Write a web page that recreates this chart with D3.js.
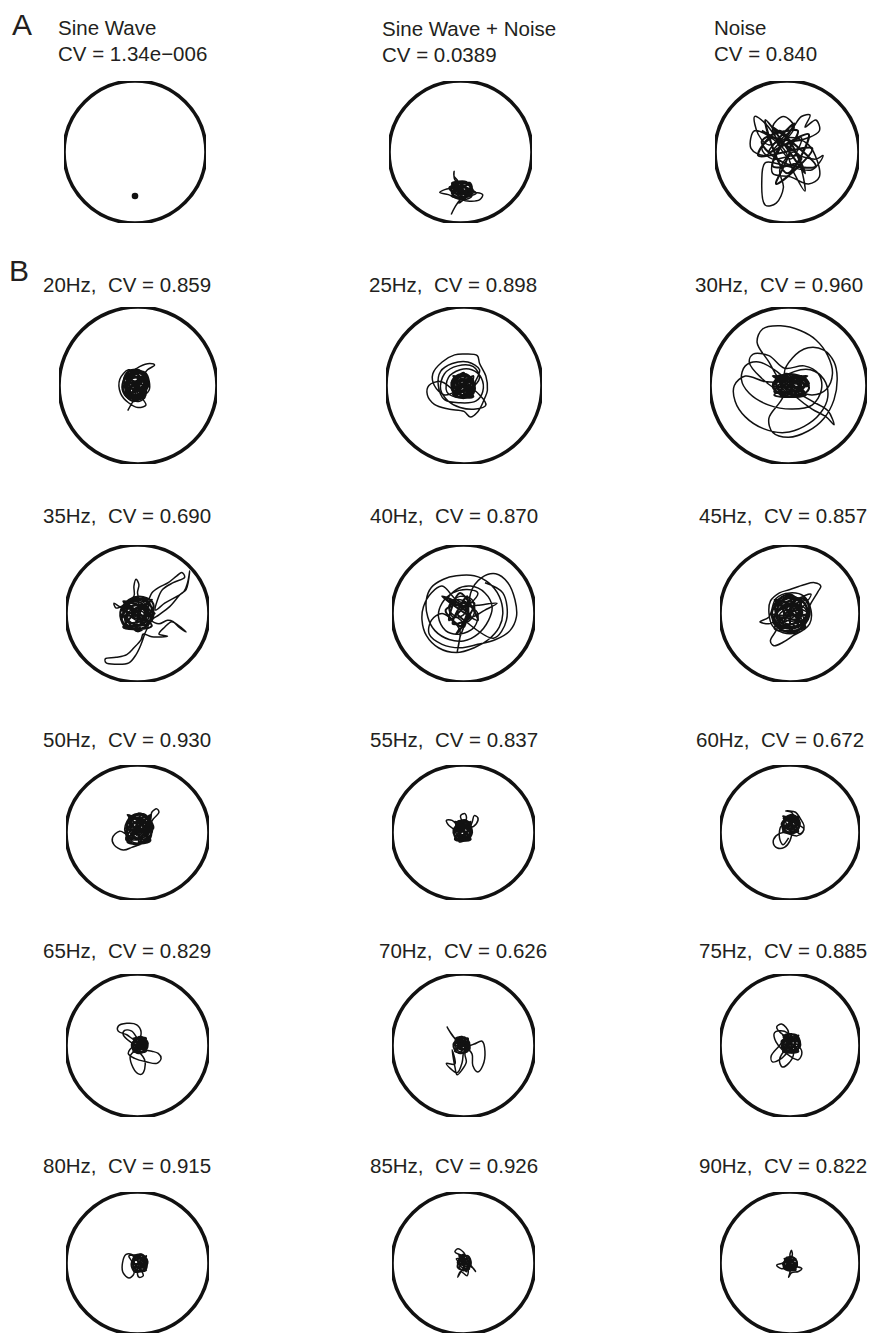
<!DOCTYPE html>
<html>
<head>
<meta charset="utf-8">
<script src="https://cdn.jsdelivr.net/npm/d3@7"></script>
<style>
  html, body { margin: 0; padding: 0; background: #fff; }
  svg { display: block; }
  text { font-family: "Liberation Sans", Arial, Helvetica, sans-serif; fill: #231f20; }
</style>
</head>
<body>
<svg id="fig" width="873" height="1333"></svg>
<script>
// ---- Panel A: reference signals ----
const titlesA = ["Sine Wave", "Sine Wave + Noise", "Noise"];
const cvA = ["1.34e\u2212006", "0.0389", "0.840"];

// ---- Panel B: stimulation frequencies and coefficient of variation ----
const freqs = [20, 25, 30, 35, 40, 45, 50, 55, 60, 65, 70, 75, 80, 85, 90];
const cvB = ["0.859", "0.898", "0.960", "0.690", "0.870", "0.857", "0.930", "0.837",
             "0.672", "0.829", "0.626", "0.885", "0.915", "0.926", "0.822"];

// Phase trajectories in unit-circle coordinates (x, y): excursions and dense cores
const trajSine = [[0, -0.62]];
const trajSineNoise = [[-0.13,-0.88],[-0.08,-0.78],[0,-0.67],[0.11,-0.62],[0.2,-0.57],[0.31,-0.6],[0.27,-0.67],[0.1,-0.69],[-0.08,-0.64],[-0.17,-0.6],[-0.29,-0.57],[-0.22,-0.53],[-0.08,-0.5],[0.04,-0.45],[0.13,-0.43],[0.16,-0.5],[0.08,-0.59],[-0.06,-0.56],[-0.12,-0.46],[-0.04,-0.41],[-0.09,-0.34],[-0.09,-0.27],[-0.08,-0.39],[0.05,-0.48],[0.13,-0.56],[0.02,-0.63],[-0.1,-0.55],[0,-0.48],[0.09,-0.53],[0.16,-0.62],[0.05,-0.67],[-0.05,-0.6],[-0.13,-0.52],[-0.03,-0.44],[0.1,-0.46],[0.18,-0.55],[0.12,-0.62],[0,-0.57],[-0.09,-0.49],[0.02,-0.42],[0.14,-0.5],[0.06,-0.58],[-0.04,-0.53],[0.05,-0.5],[0.22,-0.58],[0.08,-0.64],[-0.02,-0.72],[0.02,-0.6],[-0.1,-0.58],[-0.16,-0.5],[-0.05,-0.47]];
const coreSineNoise = [[-0.1,-0.46],[0.04,-0.42],[0.14,-0.5],[0.1,-0.6],[-0.02,-0.64],[-0.12,-0.58],[-0.06,-0.5],[0.06,-0.48],[0.08,-0.56],[-0.04,-0.6],[-0.14,-0.5],[0,-0.44],[0.12,-0.44],[0.16,-0.56],[0.02,-0.66],[-0.1,-0.62],[-0.08,-0.52],[0.04,-0.54],[0.12,-0.62],[0,-0.5],[-0.12,-0.44],[0.08,-0.42],[0.14,-0.52],[-0.02,-0.56],[0.12,-0.44],[-0.12,-0.62],[0.12,-0.62],[-0.12,-0.46],[0.15,-0.53],[-0.14,-0.53],[0,-0.43],[0,-0.65]];
const trajNoise = [[-0.1,0.12],[-0.3,0.4],[-0.45,0.5],[-0.4,0.25],[-0.25,0.1],[0.05,0.3],[0.2,0.5],[0.32,0.52],[0.25,0.35],[0.4,0.45],[0.45,0.3],[0.1,0.15],[-0.2,0.2],[-0.35,0.05],[-0.2,-0.1],[0.1,-0.05],[0.4,-0.1],[0.5,-0.05],[0.35,-0.25],[0,-0.2],[-0.3,-0.15],[-0.35,-0.4],[-0.3,-0.75],[-0.15,-0.72],[-0.05,-0.5],[-0.1,-0.25],[0.1,0],[0.25,-0.55],[0.1,-0.3],[-0.05,0.05],[-0.45,0.3],[-0.5,0.05],[-0.3,-0.05],[0,0.2],[0.3,0.1],[0.45,-0.35],[0.3,-0.45],[0.05,-0.35],[-0.2,-0.3],[-0.15,0],[0.1,0.35],[-0.05,0.5],[-0.2,0.35],[-0.05,0.1],[0.2,0.2],[0.05,-0.1],[-0.15,0.15]];
const coreNoise = [[-0.35,0.3],[0.2,-0.1],[-0.2,-0.2],[0.1,0.4],[-0.25,0],[0.3,0.25],[0,-0.3],[-0.3,0.45],[0.25,-0.3],[-0.1,0.3],[-0.4,-0.05],[0.35,0.05],[-0.15,-0.45],[0.05,0.1],[-0.2,0.35],[0.4,-0.2],[-0.05,-0.15],[-0.35,0.15],[0.15,0.3],[0,0]];

const traj20 = [[-0.13,-0.32],[-0.06,-0.2],[0,-0.12],[0.1,-0.05],[0.12,0.08],[0.05,0.18],[-0.08,0.2],[-0.17,0.1],[-0.2,-0.05],[-0.12,-0.17],[0.02,-0.2],[0.1,-0.12],[0.08,0.02],[-0.02,0.1],[-0.12,0.05],[-0.1,-0.08],[0,-0.05],[0.05,0.1],[0.12,0.2],[0.21,0.26],[0.15,0.28],[0.02,0.24],[-0.1,0.15],[-0.19,0.02],[-0.15,-0.12],[-0.05,-0.15],[0.08,-0.08],[0.14,0.05],[0.06,0.15],[-0.06,0.13],[-0.14,0],[-0.08,-0.1],[0.04,-0.1],[0.09,0],[0.02,0.07],[-0.06,0.03],[-0.04,-0.04],[0.05,-0.16],[0.1,-0.25],[0,-0.28],[-0.12,-0.22],[-0.22,-0.1],[-0.23,0.08],[-0.12,0.2],[0,0.16],[0.1,0.1],[0.04,-0.02],[-0.08,0.06],[-0.02,0.18],[0.1,0.16],[0.14,-0.06],[0.02,-0.14],[-0.14,-0.06],[-0.1,0.1]];
const core20 = [[-0.1,0.12],[0.04,0.16],[0.1,0.04],[0.02,-0.1],[-0.12,-0.14],[-0.16,0],[-0.06,0.1],[0.08,0.08],[0.06,-0.06],[-0.08,-0.04],[-0.14,0.1],[-0.02,0.2],[0.1,0.12],[0.12,-0.02],[0,-0.16],[-0.1,-0.08],[-0.04,0.04],[0.06,0],[-0.02,-0.08],[-0.12,0.04],[-0.08,0.16],[0.04,0.1],[0.1,-0.08],[-0.04,-0.18],[-0.14,-0.06],[-0.1,0.06],[0.02,0.04],[0,0.14],[-0.12,0.18],[-0.18,0.06],[-0.1,-0.1],[0.04,-0.12],[0.12,0.06],[0.02,0.18],[-0.08,0.08],[-0.02,-0.02],[0.08,-0.12],[-0.06,-0.2],[-0.16,-0.1],[-0.06,0],[0.1,0.14],[-0.16,-0.12],[0.08,-0.16],[-0.14,0.16],[0.12,0],[-0.18,-0.02],[0,0.2],[-0.04,-0.2],[0.1,0.1],[-0.12,-0.16],[0.06,0.16],[-0.16,0.12],[0.1,-0.12]];
const traj25 = [[-0.04,0],[0.08,0.08],[0.1,-0.06],[-0.02,-0.12],[-0.14,-0.05],[-0.1,0.1],[0.04,0.12],[0.12,0.02],[0.05,-0.1],[-0.1,-0.1],[-0.16,0.04],[-0.05,0.14],[0.09,0.1],[0.13,-0.04],[0,-0.14],[-0.13,-0.06],[-0.3,0.05],[-0.45,0],[-0.47,-0.12],[-0.38,-0.24],[-0.2,-0.3],[0,-0.33],[0.08,-0.4],[0.18,-0.33],[0.27,-0.15],[0.3,-0.06],[0.28,0.12],[0.2,0.28],[0.17,0.38],[0.02,0.4],[-0.12,0.39],[-0.28,0.3],[-0.4,0.15],[-0.38,0],[-0.25,-0.12],[-0.08,-0.06],[0.06,0.05],[0.02,0.1],[-0.1,0.02],[-0.05,-0.08],[0.1,-0.05],[0.15,0.06],[0.2,0.2],[0.05,0.3],[-0.15,0.28],[-0.3,0.18],[-0.33,0],[-0.25,-0.18],[-0.05,-0.22],[0.15,-0.2],[0.24,-0.08],[0.22,0.1],[0.1,0.2],[-0.05,0.2],[-0.2,0.1],[-0.22,-0.08],[-0.1,-0.15],[0.06,-0.14],[0.14,-0.02],[0.04,0.06],[-0.08,0.04],[-0.04,-0.06],[0.06,-0.03],[0.2,-0.12],[0.28,-0.25],[0.15,-0.3],[-0.05,-0.28],[-0.2,-0.2],[-0.3,-0.05],[-0.25,0.15],[-0.08,0.25],[0.12,0.24],[0.2,0.1],[0.1,-0.02],[-0.02,0.02],[-0.1,-0.03],[0,-0.08]];
const core25 = [[-0.1,0.1],[0.05,0.12],[0.12,0],[0.05,-0.12],[-0.08,-0.14],[-0.16,-0.02],[-0.06,0.06],[0.08,0.06],[0.04,-0.06],[-0.1,-0.06],[-0.14,0.08],[0,0.15],[0.1,0.08],[0.12,-0.1],[-0.02,-0.16],[-0.12,-0.1],[-0.04,0],[0.06,-0.02],[0,0.08],[-0.12,0.02],[-0.06,-0.1],[0.08,-0.14],[0.14,-0.04],[0.06,0.12],[-0.06,0.14],[-0.16,0.04],[-0.1,-0.12],[0.02,-0.04],[0.1,0.04],[-0.02,0.06],[-0.08,-0.02],[0.04,-0.1],[0.12,0.06],[-0.04,0.12],[-0.14,-0.06],[0,-0.12],[0.08,0],[0.12,0.12],[-0.14,-0.12],[0.12,-0.14],[-0.14,0.12],[0.14,0],[-0.16,0],[0,0.16],[0,-0.16],[0.1,0.08],[-0.1,-0.1]];
const traj30 = [[0,0.03],[0.12,0.1],[0.2,0],[0.1,-0.1],[-0.05,-0.1],[-0.15,0.02],[-0.05,0.15],[0.1,0.12],[0.22,0.05],[0.15,-0.08],[0,-0.05],[-0.12,0.08],[-0.25,0.3],[-0.4,0.55],[-0.33,0.72],[-0.1,0.76],[0.15,0.7],[0.35,0.58],[0.5,0.38],[0.56,0.15],[0.48,-0.05],[0.3,-0.12],[0.12,-0.06],[0.02,0.05],[-0.1,0],[0.05,-0.12],[0.18,0.06],[0.05,0.14],[-0.1,0.05],[-0.3,0.05],[-0.55,0.12],[-0.69,0],[-0.68,-0.2],[-0.55,-0.4],[-0.32,-0.55],[-0.05,-0.6],[0.2,-0.52],[0.4,-0.36],[0.5,-0.15],[0.45,0.08],[0.28,0.2],[0.08,0.18],[-0.08,0.08],[0,-0.08],[0.15,-0.02],[0.08,0.1],[-0.1,-0.2],[-0.25,-0.42],[-0.2,-0.6],[0,-0.66],[0.25,-0.58],[0.45,-0.42],[0.58,-0.18],[0.62,0.1],[0.58,0.3],[0.45,0.45],[0.25,0.48],[0.05,0.35],[-0.05,0.15],[0.1,0.02],[0.2,0.1],[0.05,0.08],[-0.12,-0.05],[-0.35,0.1],[-0.5,0.3],[-0.45,0.4],[-0.25,0.38],[-0.05,0.22],[0.2,0.25],[0.38,0.15],[0.42,-0.05],[0.3,-0.25],[0.05,-0.3],[-0.25,-0.25],[-0.5,-0.1],[-0.6,0.08],[-0.55,0.25],[-0.38,0.3],[-0.15,0.18],[0.05,0],[0.18,-0.05],[0.1,0.08],[-0.02,0.02],[0.3,-0.2],[0.5,-0.32],[0.58,-0.5],[0.48,-0.4],[0.3,-0.3],[0.1,-0.15],[-0.05,0]];
const core30 = [[-0.18,0.1],[0,0.14],[0.18,0.08],[0.26,-0.04],[0.12,-0.14],[-0.06,-0.12],[-0.2,-0.02],[-0.08,0.08],[0.1,0.1],[0.2,0],[0.06,-0.08],[-0.12,-0.06],[-0.16,0.08],[0.02,0.04],[0.14,-0.06],[0.24,0.06],[0.08,0.14],[-0.1,0.12],[-0.2,0],[-0.06,-0.14],[0.1,-0.12],[0.2,-0.08],[0.04,0],[-0.1,0.02],[0,0.1],[0.16,0.12],[0.26,0.02],[0.1,-0.04],[-0.04,-0.04],[-0.14,0.12],[0.06,0.08],[0.18,-0.12],[0,-0.1],[-0.18,-0.08],[-0.08,0.04],[0.24,0.12],[-0.18,-0.12],[0.22,-0.12],[-0.2,0.12],[0.26,0],[-0.2,0],[0.04,0.14],[0.04,-0.14],[0.18,0.1],[-0.14,-0.1]];
const traj35 = [[0,0],[0.12,0.1],[0.15,-0.08],[0.02,-0.18],[-0.12,-0.1],[-0.15,0.08],[-0.02,0.2],[0.1,0.15],[0.18,0],[0.08,-0.14],[-0.08,-0.15],[-0.2,-0.02],[-0.1,0.15],[0.05,0.1],[0,-0.05],[-0.12,0.02],[-0.25,0.1],[-0.33,0.15],[-0.3,0.08],[-0.2,0.12],[-0.05,0.25],[-0.05,0.4],[-0.02,0.5],[0.02,0.42],[0,0.3],[0.05,0.18],[0.15,0.2],[0.2,0.3],[0.3,0.38],[0.43,0.45],[0.55,0.55],[0.62,0.6],[0.66,0.53],[0.5,0.45],[0.35,0.35],[0.28,0.2],[0.25,0.05],[0.38,0.15],[0.55,0.25],[0.65,0.32],[0.7,0.45],[0.73,0.62],[0.68,0.35],[0.6,0.28],[0.45,0.1],[0.3,-0.02],[0.2,-0.1],[0.3,-0.15],[0.42,-0.1],[0.5,-0.12],[0.58,-0.2],[0.68,-0.27],[0.58,-0.18],[0.48,-0.12],[0.38,-0.2],[0.3,-0.3],[0.42,-0.33],[0.2,-0.34],[0.08,-0.3],[0.05,-0.38],[-0.05,-0.5],[-0.15,-0.6],[-0.3,-0.64],[-0.45,-0.66],[-0.44,-0.72],[-0.3,-0.74],[-0.12,-0.72],[-0.02,-0.6],[0.05,-0.45],[0.1,-0.3],[0.15,-0.15],[0.05,-0.05],[-0.1,-0.2],[-0.18,-0.08],[-0.08,0.05],[0.08,0.02],[0.12,-0.12],[-0.02,-0.1],[-0.15,0.05],[-0.05,0.12],[0.1,0.05]];
const core35 = [[-0.2,0.15],[0,0.22],[0.18,0.12],[0.22,-0.05],[0.1,-0.2],[-0.1,-0.22],[-0.22,-0.08],[-0.12,0.08],[0.06,0.12],[0.14,-0.02],[0.02,-0.12],[-0.14,-0.12],[-0.2,0.04],[-0.06,0.18],[0.12,0.2],[0.2,0.04],[0.06,-0.08],[-0.08,-0.04],[-0.02,0.08],[0.1,0.04],[0,-0.2],[-0.18,-0.18],[-0.24,0.02],[-0.12,0.2],[0.08,0.24],[0.22,0.14],[0.16,-0.12],[-0.02,-0.02],[-0.14,0.14],[0.04,0.16],[0.18,-0.08],[0,-0.26],[-0.16,-0.02],[0.02,0.04],[0.2,0.2],[-0.2,-0.2],[0.2,-0.18],[-0.2,0.18],[0.24,0],[-0.24,0],[0,0.24],[0,-0.24],[0.16,0.16],[-0.16,-0.16],[0.14,-0.14],[-0.14,0.14]];
const traj40 = [[-0.05,0.06],[0.1,0.15],[0.2,0.3],[0.05,0.35],[-0.15,0.3],[-0.3,0.15],[-0.35,-0.05],[-0.25,-0.25],[-0.05,-0.3],[0.15,-0.2],[0.2,0],[0.1,0.1],[-0.1,0.2],[-0.3,0.4],[-0.45,0.3],[-0.56,0.1],[-0.58,-0.1],[-0.52,-0.32],[-0.35,-0.5],[-0.1,-0.57],[0.15,-0.5],[0.35,-0.38],[0.5,-0.2],[0.55,0],[0.5,0.25],[0.35,0.45],[0.15,0.55],[-0.1,0.55],[-0.28,0.5],[-0.45,0.38],[-0.52,0.2],[-0.5,-0.05],[-0.4,-0.25],[-0.2,-0.38],[0,-0.4],[0.2,-0.3],[0.35,-0.1],[0.4,0.1],[0.3,0.3],[0.1,0.4],[-0.1,0.35],[-0.22,0.2],[0,0.1],[0.2,0.12],[0.47,0.15],[0.3,0.05],[0.1,-0.05],[0.1,0.3],[0.25,0.52],[0.45,0.58],[0.62,0.45],[0.72,0.2],[0.74,-0.05],[0.65,-0.25],[0.45,-0.38],[0.2,-0.45],[-0.05,-0.5],[-0.3,-0.45],[-0.48,-0.3],[-0.45,-0.1],[-0.3,0],[-0.15,-0.1],[-0.05,-0.25],[-0.09,-0.57],[-0.05,-0.35],[0,-0.15],[-0.2,0.05],[-0.1,0.2],[0.05,0.15],[0,-0.02],[-0.15,-0.05],[-0.2,0.12],[-0.05,0.25],[0.12,0.2],[0.15,0],[0.05,-0.12],[-0.1,0],[0.42,-0.36],[0.6,-0.1],[0.55,0.3],[0.3,0.45]];
const core40 = [[-0.2,0.2],[0.1,-0.05],[-0.15,-0.15],[0.05,0.25],[0,-0.2],[-0.25,0.05],[0.15,0.15],[-0.1,-0.3],[0.05,0.05],[-0.3,0.25],[0.2,-0.1],[-0.05,0.3],[-0.2,-0.1],[0.1,0.2]];
const traj45 = [[0,0],[0.15,0.12],[0.25,0],[0.15,-0.18],[-0.05,-0.22],[-0.22,-0.1],[-0.25,0.08],[-0.12,0.22],[0.05,0.25],[0.2,0.15],[0.26,-0.05],[0.12,-0.2],[-0.08,-0.2],[-0.2,-0.05],[-0.15,0.12],[0.02,0.18],[0.15,0.05],[0.08,-0.1],[-0.08,-0.08],[-0.05,0.08],[0.1,0.1],[0.18,-0.1],[0.3,0.15],[0.4,0.32],[0.44,0.4],[0.35,0.45],[0.2,0.42],[0,0.35],[-0.15,0.3],[-0.28,0.18],[-0.3,0],[-0.25,-0.18],[-0.1,-0.28],[0.1,-0.28],[0.28,-0.15],[0.3,0.05],[0.2,0.25],[0,0.3],[-0.2,0.22],[-0.3,-0.05],[-0.43,-0.12],[-0.3,-0.15],[-0.15,-0.1],[-0.2,-0.25],[-0.28,-0.4],[-0.23,-0.47],[-0.1,-0.42],[0.05,-0.32],[0.2,-0.22],[0.1,-0.05],[-0.05,0.05],[-0.15,-0.02],[-0.05,-0.15],[0.1,-0.12],[0.18,0.02],[0.08,0.15],[-0.1,0.12],[-0.18,0],[-0.1,-0.12],[0.05,-0.05],[0.3,0.28],[0.1,0.2],[-0.05,0]];
const core45 = [[-0.22,0.12],[0,0.24],[0.2,0.16],[0.26,-0.04],[0.14,-0.22],[-0.06,-0.26],[-0.24,-0.12],[-0.16,0.06],[0.04,0.14],[0.16,0.02],[0.06,-0.14],[-0.12,-0.14],[-0.2,0.02],[-0.08,0.2],[0.12,0.22],[0.24,0.08],[0.18,-0.14],[0,-0.2],[-0.18,-0.2],[-0.26,0],[-0.14,0.18],[0.06,0.06],[0.1,-0.08],[-0.04,-0.06],[-0.1,0.08],[0.02,0.2],[0.22,0.2],[0.28,-0.02],[0.1,-0.26],[-0.12,-0.24],[-0.22,-0.04],[-0.06,0.1],[0.12,0.1],[0.08,-0.2],[-0.16,-0.1],[-0.2,0.16],[0,0.28],[0.16,0.1],[0,0],[-0.1,-0.16],[0.2,-0.08],[0.04,0.16],[0.22,0.22],[-0.22,-0.22],[0.22,-0.2],[-0.22,0.2],[0.26,0],[-0.26,0],[0,0.26],[0,-0.26],[0.16,0.18],[-0.18,-0.16],[0.16,-0.16],[-0.16,0.16]];
const traj50 = [[0.02,0.07],[0.15,0.15],[0.2,0.02],[0.1,-0.12],[-0.05,-0.15],[-0.15,-0.02],[-0.12,0.18],[0.02,0.28],[0.15,0.22],[0.2,0.08],[0.12,-0.05],[-0.02,-0.1],[-0.12,0.05],[-0.05,0.2],[0.1,0.18],[0.15,0],[0,-0.05],[-0.08,0.1],[0.05,0.15],[0.12,0.05],[0.22,0.2],[0.3,0.3],[0.27,0.35],[0.2,0.3],[0.18,0.18],[0.05,0.05],[-0.1,-0.05],[-0.25,0.02],[-0.35,-0.08],[-0.33,-0.18],[-0.2,-0.26],[-0.08,-0.22],[0.05,-0.15],[0,0],[-0.1,0.15],[0,0.25],[0.12,0.12],[0.05,-0.02],[-0.08,0],[0.02,0.1],[0.15,0.08],[0.08,-0.08],[-0.1,-0.1],[-0.18,0.05],[-0.08,0.25],[0.1,0.27],[0.2,0.12]];
const core50 = [[-0.12,0.2],[0.04,0.28],[0.18,0.18],[0.2,0],[0.08,-0.14],[-0.08,-0.16],[-0.16,0],[-0.06,0.14],[0.1,0.14],[0.14,0.02],[0.02,-0.08],[-0.12,-0.06],[-0.14,0.12],[0,0.22],[0.16,0.1],[0.1,-0.1],[-0.06,-0.04],[-0.02,0.1],[0.12,0.24],[0.22,0.06],[0.04,0],[-0.1,0.06],[-0.04,0.26],[0.14,0.2],[0.18,-0.08],[0,-0.18],[-0.16,-0.1],[-0.08,0.04],[0.08,0.06],[0.02,0.16],[-0.12,0.24],[0.06,-0.04],[0.18,0.26],[-0.14,-0.14],[0.18,-0.12],[-0.14,0.26],[0.2,0.06],[-0.16,0.06],[0.02,0.28],[0.02,-0.16],[0.14,0.2],[-0.1,-0.1]];
const traj55 = [[-0.02,0.04],[0.08,0.1],[0.1,-0.02],[0,-0.1],[-0.1,-0.04],[-0.08,0.1],[0.04,0.14],[0.1,0.04],[0.03,-0.06],[-0.07,0],[-0.02,0.1],[0.07,0.06],[0.12,0.15],[0.15,0.25],[0.2,0.22],[0.18,0.13],[0.1,0.08],[0,0.15],[-0.04,0.25],[0.02,0.28],[0.04,0.2],[-0.1,0.05],[-0.2,0.1],[-0.24,0.18],[-0.16,0.18],[-0.08,0.08],[-0.05,-0.05],[0.05,-0.08],[0.1,0],[0.05,0.08],[-0.05,0.06],[-0.03,-0.04],[0,-0.12],[-0.06,-0.14],[-0.04,-0.06],[0.06,0.02],[0.02,0.12],[-0.08,0.12],[-0.12,0.02],[-0.02,-0.08],[0.08,-0.04]];
const core55 = [[-0.1,0.12],[0.02,0.16],[0.1,0.08],[0.1,-0.04],[0,-0.1],[-0.12,-0.06],[-0.12,0.06],[-0.02,0.1],[0.06,0.02],[-0.04,-0.04],[-0.1,0.14],[0.04,0.18],[0.12,0],[0.04,-0.12],[-0.08,-0.1],[-0.14,0.02],[-0.04,0.06],[0.06,0.12],[0.08,-0.06],[-0.06,-0.02],[0,0.04],[-0.08,0.16],[0.1,0.14],[0.02,-0.06],[0.1,0.16],[-0.12,-0.1],[0.1,-0.1],[-0.12,0.16],[0.12,0.03],[-0.14,0.03],[0,0.18],[0,-0.12]];
const traj60 = [[0,0.11],[0.1,0.18],[0.12,0.05],[0.02,-0.02],[-0.1,0.05],[-0.08,0.2],[0.05,0.25],[0.14,0.15],[0.08,0.02],[-0.05,0.02],[-0.1,0.15],[0,0.22],[0.1,0.1],[0.02,0.3],[-0.06,0.32],[0.08,0.3],[0.15,0.2],[0.2,0.1],[0.18,0],[0.1,-0.05],[-0.1,0],[-0.2,-0.05],[-0.24,-0.15],[-0.18,-0.23],[-0.08,-0.22],[0,-0.12],[0.02,0],[-0.05,0.1],[0.05,0.15],[0.1,0.05],[0,0.05],[-0.06,0.18],[0.06,0.2],[0.12,0.12],[0.2,0.05],[0.14,-0.02],[0.05,0.06],[-0.12,0.1],[-0.15,-0.08],[-0.1,-0.18],[-0.02,-0.08]];
const core60 = [[-0.1,0.2],[0.02,0.26],[0.12,0.2],[0.12,0.06],[0.02,0],[-0.1,0.04],[-0.08,0.16],[0.04,0.18],[0.08,0.1],[-0.02,0.06],[-0.12,0.12],[0,0.24],[0.14,0.14],[0.06,0.02],[-0.06,0.08],[0.02,0.14],[0.1,0.22],[-0.04,0.2],[-0.1,0.08],[0.06,0.06],[0.12,0.24],[-0.1,0.02],[0.12,0.02],[-0.1,0.24],[0.14,0.12],[-0.12,0.12],[0.02,0.26],[0.02,0]];
const traj65 = [[0.03,0],[0.1,0.06],[0.12,-0.03],[0.05,-0.09],[-0.04,-0.05],[-0.06,0.05],[0.02,0.1],[0.1,0.08],[0.14,0],[0.06,-0.06],[-0.02,-0.02],[0,0.06],[0.08,0.03],[-0.05,0.08],[-0.15,0.15],[-0.27,0.2],[-0.27,0.27],[-0.15,0.31],[-0.01,0.29],[0.05,0.19],[0.02,0.08],[-0.08,0.2],[-0.18,0.21],[-0.2,0.15],[-0.1,0.05],[0.1,-0.06],[0.2,-0.08],[0.29,-0.11],[0.33,-0.18],[0.27,-0.25],[0.13,-0.23],[-0.04,-0.18],[-0.13,-0.11],[-0.06,-0.02],[0.03,-0.1],[0.1,-0.2],[0.1,-0.33],[0.06,-0.4],[0,-0.39],[-0.08,-0.27],[-0.1,-0.14],[-0.02,-0.06],[0.08,0.02],[0.12,0.08],[0.03,0.04],[-0.03,-0.04],[0.07,-0.05],[0.15,0.04]];
const core65 = [[-0.06,0.08],[0.06,0.12],[0.14,0.04],[0.1,-0.08],[-0.02,-0.1],[-0.08,0],[0.02,0.06],[0.1,0],[0.02,-0.06],[-0.06,0.04],[0.04,0.1],[0.14,-0.02],[0.04,-0.1],[-0.06,-0.04],[0,0.02],[0.08,0.08],[0.12,-0.06],[-0.04,0.1],[0.12,0.1],[-0.06,-0.08],[0.12,-0.08],[-0.06,0.1],[0.14,0.01],[-0.08,0.01],[0.03,0.12],[0.03,-0.1]];
const traj70 = [[-0.02,0],[0.06,0.06],[0.08,-0.04],[0,-0.1],[-0.1,-0.05],[-0.1,0.06],[-0.02,0.1],[0.06,0.02],[-0.03,-0.06],[-0.08,0.02],[0.02,0.06],[-0.1,0.08],[-0.18,0.18],[-0.23,0.26],[-0.14,0.12],[-0.04,0.04],[0.08,0],[0.15,0.02],[0.26,0.06],[0.3,-0.08],[0.27,-0.28],[0.2,-0.37],[0.13,-0.28],[0.12,-0.12],[0.05,-0.05],[0.02,-0.12],[0.04,-0.23],[-0.02,-0.34],[-0.09,-0.41],[-0.12,-0.3],[-0.16,-0.06],[-0.12,-0.26],[-0.24,-0.25],[-0.09,-0.38],[-0.02,-0.24],[0,-0.1],[0.06,0.04],[-0.05,0.05],[-0.06,-0.05],[0.04,-0.04]];
const core70 = [[-0.12,0.06],[-0.02,0.12],[0.08,0.04],[0.04,-0.08],[-0.08,-0.1],[-0.14,0],[-0.04,0.06],[0.06,0],[-0.02,-0.06],[-0.1,0.1],[0.04,0.1],[0.08,-0.06],[-0.06,-0.04],[-0.12,-0.06],[0,0.02],[-0.06,0.12],[0.06,0.08],[0.06,0.1],[-0.12,-0.08],[0.06,-0.08],[-0.12,0.1],[0.08,0.01],[-0.14,0.01],[-0.03,0.12],[-0.03,-0.1]];
const traj75 = [[0,0.03],[0.1,0.08],[0.12,-0.04],[0.02,-0.1],[-0.08,-0.03],[-0.06,0.1],[0.06,0.12],[0.12,0.02],[0.04,-0.06],[-0.06,0.02],[0.02,0.1],[-0.1,0.15],[-0.19,0.26],[-0.12,0.3],[-0.02,0.18],[-0.15,0],[-0.27,-0.15],[-0.25,-0.23],[-0.12,-0.18],[0.02,-0.05],[0.05,-0.12],[-0.02,-0.25],[-0.11,-0.3],[-0.15,-0.2],[-0.05,-0.05],[0.12,-0.02],[0.17,-0.1],[0.12,-0.2],[0,-0.15],[-0.2,0.05],[-0.22,0.18],[-0.08,0.2],[0.08,0.05]];
const core75 = [[-0.1,0.1],[0.02,0.16],[0.12,0.08],[0.12,-0.04],[0,-0.1],[-0.12,-0.02],[-0.04,0.08],[0.08,0.04],[0.02,-0.04],[-0.08,0.14],[0.1,0.14],[0.14,-0.02],[-0.02,-0.08],[-0.12,0.06],[0.04,0.1],[0.06,-0.08],[-0.06,0],[0.12,0.14],[-0.1,-0.08],[0.12,-0.08],[-0.1,0.14],[0.14,0.03],[-0.12,0.03],[0.01,0.16],[0.01,-0.1]];
const traj80 = [[0.05,0],[0.12,0.06],[0.13,-0.04],[0.05,-0.12],[-0.05,-0.06],[-0.04,0.08],[0.06,0.12],[0.12,0.02],[0.03,-0.08],[-0.05,0.02],[0.05,0.06],[0.1,-0.1],[-0.08,0.12],[-0.16,0.12],[-0.21,0],[-0.2,-0.14],[-0.12,-0.21],[-0.05,-0.15],[-0.08,0.02],[-0.12,0.1],[0.02,0.1],[0.1,0],[0.04,-0.05],[0.08,-0.18],[0.02,-0.2],[0,-0.1],[0.08,0.1]];
const core80 = [[-0.06,0.1],[0.06,0.12],[0.14,0.02],[0.08,-0.1],[-0.04,-0.12],[-0.08,0],[0.04,0.06],[0.1,-0.04],[0,-0.06],[-0.06,0.06],[0.08,0.1],[0.12,-0.08],[-0.02,-0.1],[0.02,0.02],[0.1,0.06],[0.12,0.1],[-0.06,-0.1],[0.12,-0.1],[-0.06,0.1],[0.14,0],[-0.08,0],[0.03,0.12],[0.03,-0.12]];
const traj85 = [[0,0.02],[0.08,0.06],[0.1,-0.04],[0.02,-0.08],[-0.06,-0.02],[-0.04,0.08],[0.05,0.1],[-0.06,0.12],[-0.12,0.16],[-0.08,0.2],[0,0.15],[0.08,0],[0.14,-0.08],[0.17,-0.12],[0.12,-0.06],[0.03,-0.05],[-0.02,-0.1],[-0.08,-0.2],[-0.04,-0.12],[0.05,-0.18],[0.06,-0.08],[-0.05,0],[-0.1,0.06],[0.02,0.05]];
const core85 = [[-0.06,0.06],[0.06,0.1],[0.1,0],[0.02,-0.1],[-0.08,-0.06],[-0.04,0.04],[0.06,0.04],[0,-0.04],[-0.06,0.12],[0.08,-0.06],[-0.02,0.08],[0.04,-0.12],[0.08,0.08],[-0.06,-0.08],[0.08,-0.08],[-0.06,0.1],[0.1,0],[-0.08,0],[0,0.12],[0,-0.12]];
const traj90 = [[0,0],[0.08,0.05],[0.1,-0.05],[0,-0.1],[-0.08,-0.03],[-0.05,0.08],[0.04,0.08],[0,0.1],[0.02,0.18],[0.03,0.1],[-0.1,0],[-0.19,-0.03],[-0.12,-0.08],[0.05,-0.05],[0.17,-0.08],[0.12,-0.12],[0.02,-0.14],[-0.02,-0.2],[0,-0.12],[-0.06,0.02],[0.06,0.04]];
const core90 = [[-0.06,0.04],[0.04,0.08],[0.1,0],[0.04,-0.1],[-0.08,-0.08],[-0.08,0.02],[0.02,0.04],[0.06,-0.06],[-0.04,-0.04],[0,0.06],[0.08,-0.1],[-0.1,-0.02],[0.08,0.06],[-0.08,-0.08],[0.08,-0.08],[-0.08,0.06],[0.1,-0.02],[-0.1,-0.02],[0,0.08],[0,-0.12]];

const trajA = [[trajSine], [trajSineNoise, coreSineNoise], [trajNoise, coreNoise]];
const trajB = [[traj20, core20], [traj25, core25], [traj30, core30], [traj35, core35],
               [traj40, core40], [traj45, core45], [traj50, core50], [traj55, core55],
               [traj60, core60], [traj65, core65], [traj70, core70], [traj75, core75],
               [traj80, core80], [traj85, core85], [traj90, core90]];

// ---- Layout (pixel boxes of each polar axis) ----
const rowY = [[81, 223], [307, 464], [545, 682], [765, 900], [974, 1117], [1192, 1334]];
const colX = [
  [[64, 206], [389, 532], [715, 859]],
  [[59, 217], [386, 542], [710, 867]],
  [[66, 209], [392, 535], [720, 860]],
  [[66, 209], [392, 535], [720, 860]],
  [[66, 209], [392, 535], [720, 860]],
  [[66, 209], [392, 535], [720, 860]]
];
const labelBaseB = [292, 523, 747, 958, 1173];
const labelXB = [[43, 369, 695], [43, 370, 699], [43, 370, 696], [43, 379, 699], [43, 370, 699]];

const svg = d3.select("#fig");
svg.append("rect").attr("width", 873).attr("height", 1333).attr("fill", "#fff");

let clipId = 0;
function panel(xr, yr, parts, dotOnly) {
  const x = d3.scaleLinear().domain([-1, 1]).range(xr);
  const y = d3.scaleLinear().domain([-1, 1]).range([yr[1], yr[0]]);
  const id = "clip" + (clipId++);
  svg.append("clipPath").attr("id", id)
    .append("rect").attr("x", xr[0]).attr("y", yr[0])
    .attr("width", xr[1] - xr[0]).attr("height", yr[1] - yr[0]);
  const g = svg.append("g").attr("clip-path", `url(#${id})`);
  g.append("ellipse")
    .attr("cx", x(0)).attr("cy", y(0))
    .attr("rx", x(1) - x(0)).attr("ry", y(-1) - y(0))
    .attr("fill", "none").attr("stroke", "#111").attr("stroke-width", 3.6);
  if (dotOnly) {
    g.selectAll("circle.pt").data(parts[0]).join("circle")
      .attr("class", "pt")
      .attr("cx", d => x(d[0])).attr("cy", d => y(d[1]))
      .attr("r", 3.3).attr("fill", "#111");
  } else {
    const line = d3.line().x(d => x(d[0])).y(d => y(d[1]))
      .curve(d3.curveCatmullRom.alpha(0.5));
    g.selectAll("path.traj").data(parts).join("path")
      .attr("class", "traj").attr("d", line)
      .attr("fill", "none").attr("stroke", "#111")
      .attr("stroke-width", (d, i) => i === 0 ? 1.5 : 2.1)
      .attr("stroke-linejoin", "round");
  }
}

// Row A
trajA.forEach((t, i) => panel(colX[0][i], rowY[0], t, i === 0));
// Rows B
trajB.forEach((t, i) => {
  const r = Math.floor(i / 3) + 1, c = i % 3;
  panel(colX[r][c], rowY[r], t, false);
});

// Panel letters
svg.append("text").attr("x", 12).attr("y", 35).attr("font-size", 30).text("A");
svg.append("text").attr("x", 9).attr("y", 281).attr("font-size", 30).text("B");

// Row A titles
const titleXA = [58, 382, 714];
const titleYA = [[35, 61], [36, 62], [35, 61]];
titlesA.forEach((t, i) => {
  svg.append("text").attr("x", titleXA[i]).attr("y", titleYA[i][0])
    .attr("font-size", 20.5).text(t);
  svg.append("text").attr("x", titleXA[i]).attr("y", titleYA[i][1])
    .attr("font-size", 20.5).text("CV = " + cvA[i]);
});

// Row B titles
freqs.forEach((f, i) => {
  const r = Math.floor(i / 3), c = i % 3;
  svg.append("text").attr("x", labelXB[r][c]).attr("y", labelBaseB[r])
    .attr("font-size", 20.5).style("white-space", "pre")
    .text(`${f}Hz,  CV = ${cvB[i]}`);
});
</script>
</body>
</html>
